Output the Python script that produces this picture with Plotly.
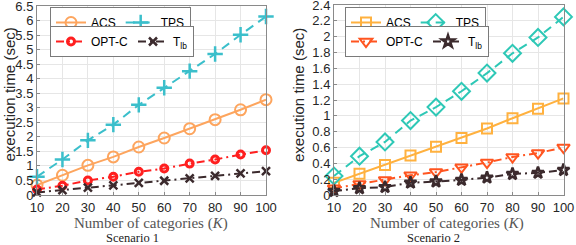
import plotly.graph_objects as go

K = [10, 20, 30, 40, 50, 60, 70, 80, 90, 100]

# Scenario 1
s1_acs = [0.34, 0.68, 1.02, 1.31, 1.65, 1.96, 2.28, 2.59, 2.93, 3.28]
s1_tps = [0.63, 1.22, 1.88, 2.42, 3.10, 3.69, 4.26, 4.85, 5.51, 6.14]
s1_optc = [0.19, 0.32, 0.50, 0.63, 0.80, 0.91, 1.08, 1.22, 1.39, 1.54]
s1_tlb = [0.09, 0.17, 0.25, 0.33, 0.42, 0.49, 0.57, 0.66, 0.74, 0.82]

# Scenario 2
s2_acs = [0.155, 0.27, 0.38, 0.50, 0.61, 0.72, 0.84, 0.97, 1.09, 1.22]
s2_tps = [0.24, 0.49, 0.67, 0.94, 1.11, 1.31, 1.54, 1.79, 1.99, 2.25]
s2_optc = [0.085, 0.14, 0.19, 0.25, 0.29, 0.35, 0.41, 0.48, 0.53, 0.60]
s2_tlb = [0.05, 0.085, 0.10, 0.155, 0.17, 0.19, 0.22, 0.265, 0.28, 0.315]

names = ["ACS", "TPS", "OPT-C", "T<sub>lb</sub>"]
x_ticks = K
y1_ticks = [0, 0.5, 1, 1.5, 2, 2.5, 3, 3.5, 4, 4.5, 5, 5.5, 6, 6.5]
y1_labels = ["0", "0.5", "1", "1.5", "2", "2.5", "3", "3.5", "4", "4.5", "5", "5.5", "6", "6.5"]
y2_ticks = [0, 0.2, 0.4, 0.6, 0.8, 1, 1.2, 1.4, 1.6, 1.8, 2, 2.2, 2.4]
y2_labels = ["0", "0.2", "0.4", "0.6", "0.8", "1", "1.2", "1.4", "1.6", "1.8", "2", "2.2", "2.4"]

SANS = "Liberation Sans, Arial, sans-serif"
SERIF = "Liberation Serif, Times New Roman, serif"
BROWN = "#3b2a2d"

fig = go.Figure()


def add(x, y, name, color, dash, symbol, msize, mlw, xa, ya, legend):
    fig.add_trace(go.Scatter(
        x=x, y=y, name=name, mode="lines+markers",
        line=dict(color=color, width=2, dash=dash),
        marker=dict(symbol=symbol, size=msize, color=color,
                    line=dict(color=color, width=mlw)),
        xaxis=xa, yaxis=ya, legend=legend, cliponaxis=False,
    ))


# left panel
add(K, s1_acs, names[0], "#fda55e", "solid", "circle-open", 11, 2, "x", "y", "legend")
add(K, s1_tps, names[1], "#3bbfcb", "9px,6px", "cross-thin-open", 11, 2.5, "x", "y", "legend")
add(K, s1_optc, names[2], "#ff1f1f", "8px,4px,2px,4px", "circle-open", 7, 3, "x", "y", "legend2")
add(K, s1_tlb, names[3], BROWN, "8px,4px,2px,4px", "x-thin-open", 8, 2.5, "x", "y", "legend2")

# right panel
add(K, s2_acs, names[0], "#ffb13f", "solid", "square-open", 10, 2, "x2", "y2", "legend3")
add(K, s2_tps, names[1], "#2ec8b6", "9px,6px", "diamond-open", 13, 2, "x2", "y2", "legend3")
add(K, s2_optc, names[2], "#ff5520", "8px,4px,2px,4px", "triangle-down-open", 11, 2, "x2", "y2", "legend4")
add(K, s2_tlb, names[3], BROWN, "8px,4px,2px,4px", "star-open", 9, 2.5, "x2", "y2", "legend4")

W, H = 576, 245

axis_common = dict(
    showline=True, mirror=True, linecolor="#8a8a8a", linewidth=1,
    showgrid=True, gridcolor="#e6e6e6", gridwidth=1,
    ticks="inside", ticklen=3, tickcolor="#8a8a8a",
    tickfont=dict(family=SANS, size=13, color="#262626"),
    zeroline=False, automargin=False, ticklabeloverflow="allow",
)

def px_x(p):
    return p / W

def px_y(p):
    return 1 - p / H

legend_common = dict(
    orientation="h", xanchor="left", yanchor="top",
    bgcolor="white", bordercolor="#7a7a7a", borderwidth=1,
    font=dict(family=SANS, size=12, color="#000000"),
    itemwidth=30, tracegroupgap=0,
)

fig.update_layout(
    template="none",
    width=W, height=H, margin=dict(l=0, r=0, t=0, b=0, pad=0, autoexpand=False),
    paper_bgcolor="white", plot_bgcolor="white", showlegend=True,
    xaxis=dict(domain=[px_x(37), px_x(266)], range=[10, 100], tickvals=x_ticks,
               anchor="y", **axis_common),
    yaxis=dict(domain=[px_y(195), px_y(6)], range=[0, 6.5], tickvals=y1_ticks,
               ticktext=y1_labels, anchor="x", **axis_common),
    xaxis2=dict(domain=[px_x(334), px_x(563.5)], range=[10, 100], tickvals=x_ticks,
                anchor="y2", **axis_common),
    yaxis2=dict(domain=[px_y(195), px_y(5)], range=[0, 2.4], tickvals=y2_ticks,
                ticktext=y2_labels, anchor="x2", **axis_common),
    legend=dict(x=px_x(50), y=px_y(7), **legend_common),
    legend2=dict(x=px_x(50), y=px_y(26), **legend_common),
    legend3=dict(x=px_x(345), y=px_y(7), **legend_common),
    legend4=dict(x=px_x(345), y=px_y(26), **legend_common),
)

annots = [
    dict(text="execution time (sec)", x=px_x(8.5), y=px_y(95), textangle=-90,
         font=dict(family=SANS, size=15, color="#262626")),
    dict(text="execution time (sec)", x=px_x(298), y=px_y(95), textangle=-90,
         font=dict(family=SANS, size=15, color="#262626")),
    dict(text="Number of categories (<i>K</i>)", x=px_x(151), y=px_y(223),
         font=dict(family=SERIF, size=15, color="#555555")),
    dict(text="Number of categories (<i>K</i>)", x=px_x(447), y=px_y(223),
         font=dict(family=SERIF, size=15, color="#555555")),
    dict(text="Scenario 1", x=px_x(132), y=px_y(238),
         font=dict(family=SERIF, size=12.5, color="#222222")),
    dict(text="Scenario 2", x=px_x(433), y=px_y(238),
         font=dict(family=SERIF, size=12.5, color="#222222")),
]
for a in annots:
    fig.add_annotation(xref="paper", yref="paper", showarrow=False,
                       xanchor="center", yanchor="middle", **a)

fig.write_html("out.html", config={"displayModeBar": False},
               post_script="document.body.style.margin='0';document.body.style.padding='0';")
